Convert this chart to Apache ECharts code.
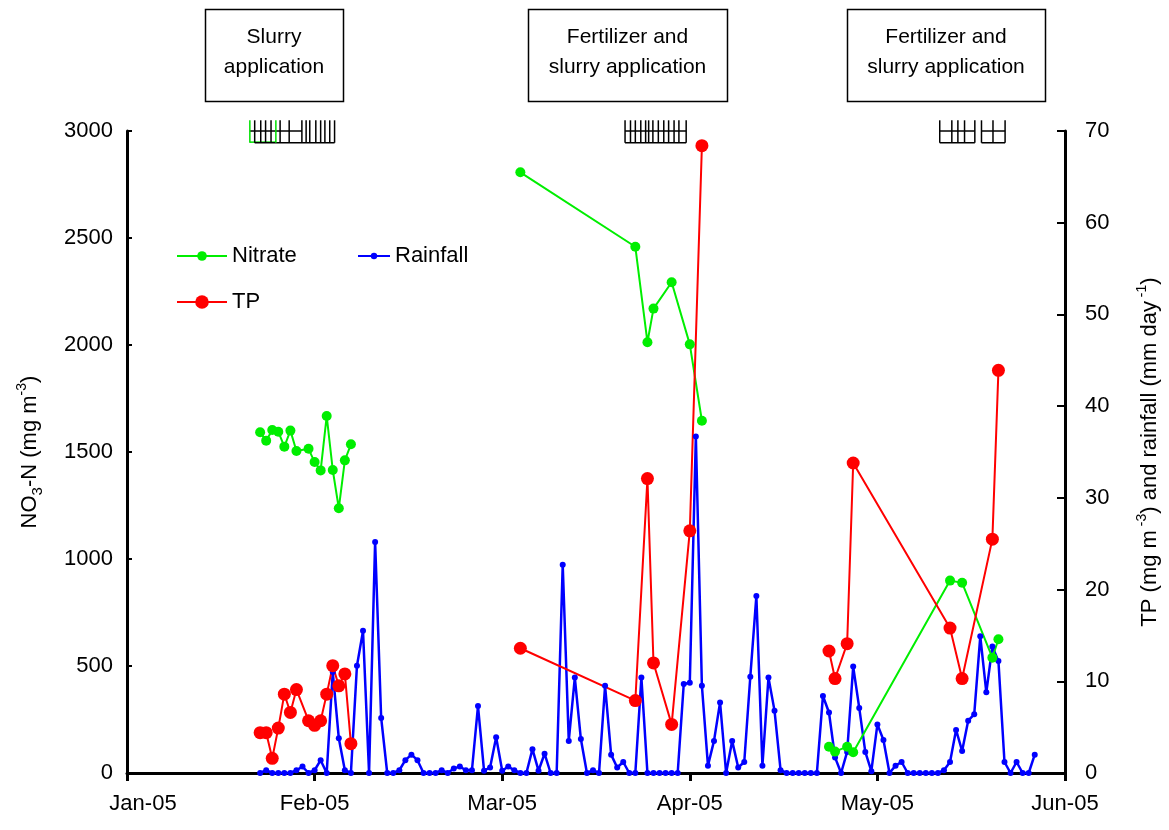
<!DOCTYPE html>
<html>
<head>
<meta charset="utf-8">
<title>Nitrate, TP and rainfall</title>
<style>
  html, body { margin: 0; padding: 0; background: #fff; }
  #container { width: 1169px; height: 830px; }
</style>
</head>
<body>
<div id="container"></div>
<script src="https://cdn.jsdelivr.net/npm/echarts@6/dist/echarts.min.js"></script>
<script>
// x values are days counted from 1 Jan 2005 (day 0), ticks every 31 days
var monthLabels = ['Jan-05', 'Feb-05', 'Mar-05', 'Apr-05', 'May-05', 'Jun-05'];

// sampling campaigns
var sampleDays = [
  [22, 23, 24, 25, 26, 27, 28, 30, 31, 32, 33, 34, 35, 36, 37],
  [65, 84, 86, 87, 90, 93, 95],
  [116, 117, 119, 120, 136, 138, 143, 144]
];
var nitrate = [
  [1592, 1553, 1603, 1595, 1525, 1600, 1505, 1515, 1453, 1414, 1668, 1416, 1237, 1461, 1536],
  [2807, 2459, 2013, 2170, 2293, 2003, 1646],
  [123, 100, 123, 97, 899, 889, 539, 625]
];
var tp = [
  [4.4, 4.4, 1.6, 4.9, 8.6, 6.6, 9.1, 5.7, 5.2, 5.7, 8.6, 11.7, 9.5, 10.8, 3.2],
  [13.6, 7.9, 32.1, 12.0, 5.3, 26.4, 68.4],
  [13.3, 10.3, 14.1, 33.8, 15.8, 10.3, 25.5, 43.9]
];

// daily rainfall (mm/day) from day 22 on
var rainStart = 22;
var rainfall = [
  0, 0.3, 0, 0, 0, 0, 0.3, 0.7, 0, 0.3,
  1.4, 0, 11.0, 3.8, 0.3, 0, 11.7, 15.5, 0, 25.2,
  6.0, 0, 0, 0.3, 1.4, 2.0, 1.4, 0, 0, 0,
  0.3, 0, 0.5, 0.7, 0.3, 0.3, 7.3, 0.25, 0.6, 3.9,
  0.25, 0.7, 0.3, 0, 0, 2.6, 0.25, 2.1, 0, 0,
  22.7, 3.5, 10.4, 3.7, 0, 0.3, 0, 9.5, 2.0, 0.6,
  1.2, 0, 0, 10.4, 0, 0, 0, 0, 0, 0,
  9.7, 9.85, 36.7, 9.5, 0.8, 3.5, 7.7, 0, 3.5, 0.6,
  1.2, 10.5, 19.3, 0.8, 10.4, 6.8, 0.3, 0, 0, 0,
  0, 0, 0, 8.4, 6.6, 1.7, 0, 2.3, 11.6, 7.1,
  2.3, 0.2, 5.3, 3.6, 0, 0.8, 1.2, 0, 0, 0,
  0, 0, 0, 0.3, 1.2, 4.7, 2.4, 5.7, 6.4, 14.9,
  8.8, 13.8, 12.2, 1.2, 0, 1.2, 0, 0, 2.0
];

// application events (days), grouped as drawn at the top of the plot
var appGroups = [
  [20.3, 21.1, 22.1, 22.9, 23.8, 24.6, 25.3, 26.8, 28.9, 29.6, 30.2, 31.2, 32.0, 32.7, 33.5, 34.3],
  [82.3, 83.2, 84.0, 84.9, 85.7, 86.2, 86.9, 87.8, 88.7, 89.5, 90.4, 91.2, 92.4],
  [134.3, 136.3, 137.3, 138.4, 140.1],
  [141.2, 143.1, 145.1]
];
var appGreen = [20.3, 24.6];

var FONT = "'Liberation Sans', Arial, sans-serif";
var markTop = 3050, markBottom = 2945, markMid = 3000;

function joinGroups(days, vals) {
  var out = [];
  for (var g = 0; g < days.length; g++) {
    if (g > 0) out.push([days[g][0] - 1, '-']);
    for (var i = 0; i < days[g].length; i++) out.push([days[g][i], vals[g][i]]);
  }
  return out;
}

var rainData = rainfall.map(function (v, i) { return [rainStart + i, v]; });

var tickData = [];
appGroups.forEach(function (g) {
  g.forEach(function (d) {
    tickData.push({ value: [d, markBottom], itemStyle: { color: appGreen.indexOf(d) >= 0 ? '#00e000' : '#000' } });
  });
});
var segData = [
  { value: [appGroups[0][0], appGreen[1], markBottom + 3], itemStyle: { color: '#00e000' } },
  { value: [appGroups[0][1], appGroups[0][15], markBottom], itemStyle: { color: '#000' } },
  { value: [appGroups[0][0], appGroups[0][8], markMid], itemStyle: { color: '#000' } }
];
for (var k = 1; k < appGroups.length; k++) {
  var g = appGroups[k];
  segData.push({ value: [g[0], g[g.length - 1], markBottom], itemStyle: { color: '#000' } });
  segData.push({ value: [g[0], g[g.length - 1], markMid], itemStyle: { color: '#000' } });
}

function boxNote(x, w, text) {
  return {
    type: 'group',
    children: [
      { type: 'rect', shape: { x: x + 0.5, y: 9.5, width: w, height: 92 },
        style: { fill: '#fff', stroke: '#000', lineWidth: 1.5 } },
      { type: 'text', x: x + w / 2, y: 52,
        style: { text: text, fontSize: 21, fontFamily: FONT, fill: '#000',
                 align: 'center', verticalAlign: 'middle', lineHeight: 30 } }
    ]
  };
}

var chart = echarts.init(document.getElementById('container'));
var legendText = { fontSize: 22, fontFamily: FONT, color: '#000' };
var nameRich = {
  n: { fontSize: 22, fontFamily: FONT, color: '#000', lineHeight: 30 },
  sup: { fontSize: 14, fontFamily: FONT, color: '#000', lineHeight: 12, verticalAlign: 'top' },
  sub: { fontSize: 15, fontFamily: FONT, color: '#000', lineHeight: 22, verticalAlign: 'bottom' }
};

chart.setOption({
  animation: false,
  backgroundColor: '#fff',
  grid: { left: 127, right: 104, top: 131, bottom: 57 },
  legend: [
    { data: ['Nitrate'], left: 176, top: 245, padding: 0, itemWidth: 50, itemHeight: 12, textStyle: legendText },
    { data: ['Rainfall'], left: 357, top: 245, padding: 0, itemWidth: 32, itemHeight: 8, textStyle: legendText },
    { data: ['TP'], left: 176, top: 291, padding: 0, itemWidth: 50, itemHeight: 17, textStyle: legendText }
  ],
  graphic: [
    boxNote(205, 138, 'Slurry\napplication'),
    boxNote(528, 199, 'Fertilizer and\nslurry application'),
    boxNote(847, 198, 'Fertilizer and\nslurry application')
  ],
  xAxis: {
    type: 'value', min: 0, max: 155, interval: 31,
    axisLine: { show: true, onZero: false, lineStyle: { color: '#000', width: 3 } },
    axisTick: { show: true, inside: false, length: 8, lineStyle: { color: '#000', width: 3 } },
    axisLabel: { margin: 20, fontSize: 22, fontFamily: FONT, color: '#000',
      rich: { first: { fontSize: 22, fontFamily: FONT, color: '#000', padding: [0, 0, 0, 32] } },
      formatter: function (v) {
        var i = Math.round(v / 31);
        return i === 0 ? '{first|' + monthLabels[i] + '}' : monthLabels[i];
      } },
    splitLine: { show: false }
  },
  yAxis: [
    {
      type: 'value', min: 0, max: 3000, interval: 500, position: 'left',
      name: '{n|NO}{sub|3}{n|-N (mg m}{sup|-3}{n|)}',
      nameLocation: 'middle', nameRotate: 90, nameGap: 82,
      nameTextStyle: { rich: nameRich },
      axisLine: { show: true, lineStyle: { color: '#000', width: 3 } },
      axisTick: { show: true, inside: true, length: 5, lineStyle: { color: '#000', width: 2 } },
      axisLabel: { margin: 14, fontSize: 22, fontFamily: FONT, color: '#000',
        formatter: function (v) { return String(v); } },
      splitLine: { show: false }
    },
    {
      type: 'value', min: 0, max: 70, interval: 10, position: 'right',
      name: '{n|TP (mg m}{sup| -3}{n|) and rainfall (mm day}{sup| -1}{n|)}',
      nameLocation: 'middle', nameRotate: 90, nameGap: 70,
      nameTextStyle: { rich: nameRich },
      axisLine: { show: true, lineStyle: { color: '#000', width: 3 } },
      axisTick: { show: true, inside: true, length: 8, lineStyle: { color: '#000', width: 2 } },
      axisLabel: { margin: 20, fontSize: 22, fontFamily: FONT, color: '#000' },
      splitLine: { show: false }
    }
  ],
  series: [
    {
      name: 'Rainfall', type: 'line', yAxisIndex: 1, data: rainData,
      symbol: 'circle', symbolSize: 6,
      itemStyle: { color: '#0000ff' }, lineStyle: { color: '#0000ff', width: 2.5 }
    },
    {
      name: 'Nitrate', type: 'line', yAxisIndex: 0, data: joinGroups(sampleDays, nitrate),
      symbol: 'circle', symbolSize: 10, connectNulls: false,
      itemStyle: { color: '#00ee00' }, lineStyle: { color: '#00ee00', width: 2 }
    },
    {
      name: 'TP', type: 'line', yAxisIndex: 1, data: joinGroups(sampleDays, tp),
      symbol: 'circle', symbolSize: 13, connectNulls: false,
      itemStyle: { color: '#ff0000' }, lineStyle: { color: '#ff0000', width: 2 }
    },
    {
      name: 'appSegments', type: 'custom', yAxisIndex: 0, data: segData, clip: false,
      encode: { x: [0, 1], y: 2 },
      renderItem: function (params, api) {
        var a = api.coord([api.value(0), api.value(2)]);
        var b = api.coord([api.value(1), api.value(2)]);
        return { type: 'line', shape: { x1: a[0], y1: a[1], x2: b[0], y2: b[1] },
                 style: { stroke: api.visual('color'), lineWidth: 1.5 } };
      }
    },
    {
      name: 'appTicks', type: 'custom', yAxisIndex: 0, data: tickData, clip: false,
      encode: { x: 0, y: 1 },
      renderItem: function (params, api) {
        var a = api.coord([api.value(0), markTop]);
        var b = api.coord([api.value(0), markBottom]);
        return { type: 'line', shape: { x1: a[0], y1: a[1], x2: b[0], y2: b[1] },
                 style: { stroke: api.visual('color'), lineWidth: 1.5 } };
      }
    }
  ]
});
</script>
</body>
</html>
